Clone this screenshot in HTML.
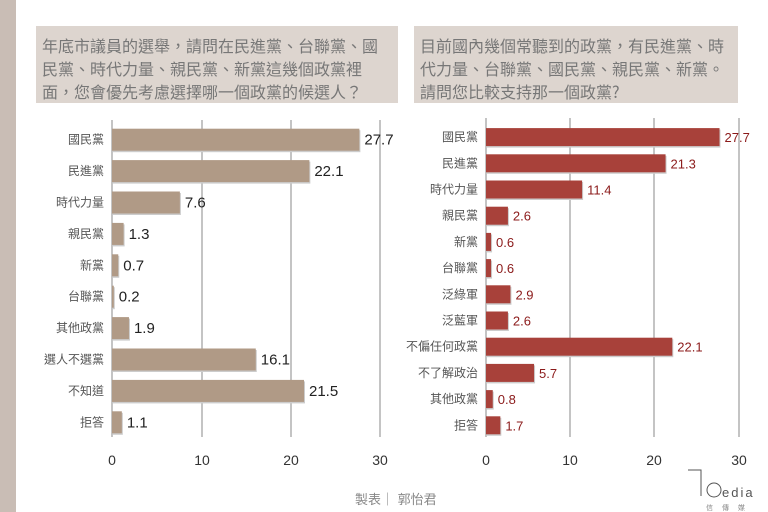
<!DOCTYPE html><html><head><meta charset="utf-8"><style>
body{margin:0;width:768px;height:512px;background:#fff;position:relative;overflow:hidden;font-family:"Liberation Sans","Noto Sans CJK TC",sans-serif}
.a{position:absolute}
.t{background:#ddd5cf;color:#777;font-size:16px;line-height:23px;padding:8px 6px;box-sizing:border-box;white-space:nowrap;font-family:"Noto Sans CJK TC",sans-serif}
</style></head><body>
<div class="a" style="left:0;top:0;width:16px;height:512px;background:#c9bdb5"></div>
<div class="a t" style="left:36px;top:26px;width:362px;height:77px">年底市議員的選舉，請問在民進黨、台聯黨、國<br>民黨、時代力量、親民黨、新黨這幾個政黨裡<br>面，您會優先考慮選擇哪一個政黨的候選人？</div>
<div class="a t" style="left:414px;top:26px;width:324px;height:77px">目前國內幾個常聽到的政黨，有民進黨、時<br>代力量、台聯黨、國民黨、親民黨、新黨。<br>請問您比較支持那一個政黨?</div>
<svg class="a" style="left:0;top:0" width="768" height="512" font-family="Liberation Sans, Noto Sans CJK TC, sans-serif">
<g stroke="#888" stroke-width="1">
<line x1="112" y1="120" x2="112" y2="437"/><line x1="202" y1="120" x2="202" y2="437"/><line x1="291" y1="120" x2="291" y2="437"/><line x1="380" y1="120" x2="380" y2="437"/>
<line x1="486" y1="118" x2="486" y2="437"/><line x1="570" y1="118" x2="570" y2="437"/><line x1="654" y1="118" x2="654" y2="437"/><line x1="739" y1="118" x2="739" y2="437"/>
</g>
<g font-size="14" fill="#333" text-anchor="middle">
<text x="112" y="465">0</text><text x="202" y="465">10</text><text x="291" y="465">20</text><text x="380" y="465">30</text>
<text x="486" y="465">0</text><text x="570" y="465">10</text><text x="654" y="465">20</text><text x="739" y="465">30</text>
</g>
<g id="L"></g><g id="R"></g>
<text x="355" y="504" font-size="13" fill="#888">製表｜ 郭怡君</text>
<g fill="none" stroke="#555" stroke-width="1"><path d="M688 470h13v26"/><circle cx="714" cy="490" r="7"/></g>
<text x="722" y="497" font-size="13" fill="#555" letter-spacing="2">edia</text>
<text x="706" y="510" font-size="7" fill="#888" letter-spacing="9">信傳媒</text>
</svg>
<script>
function draw(id,x0,sc,top,step,bh,cats,vals,col,tc,fs){
 var g=document.getElementById(id),s='';
 for(var i=0;i<cats.length;i++){var cy=top+step*(i+.5),w=vals[i]*sc;
 s+='<rect x="'+(x0+1)+'" y="'+(cy-bh/2+1.5)+'" width="'+w+'" height="'+bh+'" fill="#ccc"/>';
 s+='<rect x="'+x0+'" y="'+(cy-bh/2)+'" width="'+w+'" height="'+bh+'" fill="'+col+'"/>';
 s+='<text x="'+(x0-8)+'" y="'+(cy+4)+'" font-size="12" fill="#555" text-anchor="end">'+cats[i]+'</text>';
 s+='<text x="'+(x0+w+5)+'" y="'+(cy+5)+'" font-size="'+fs+'" fill="'+tc+'">'+vals[i]+'</text>';}
 g.innerHTML=s;}
draw('L',112,8.93,124,31.4,22,['國民黨','民進黨','時代力量','親民黨','新黨','台聯黨','其他政黨','選人不選黨','不知道','拒答'],[27.7,22.1,7.6,1.3,0.7,0.2,1.9,16.1,21.5,1.1],'#b09a86','#222',15);
draw('R',486,8.43,124,26.2,18,['國民黨','民進黨','時代力量','親民黨','新黨','台聯黨','泛綠軍','泛藍軍','不偏任何政黨','不了解政治','其他政黨','拒答'],[27.7,21.3,11.4,2.6,0.6,0.6,2.9,2.6,22.1,5.7,0.8,1.7],'#a8413a','#8b1a1a',13);
</script>
</body></html>
